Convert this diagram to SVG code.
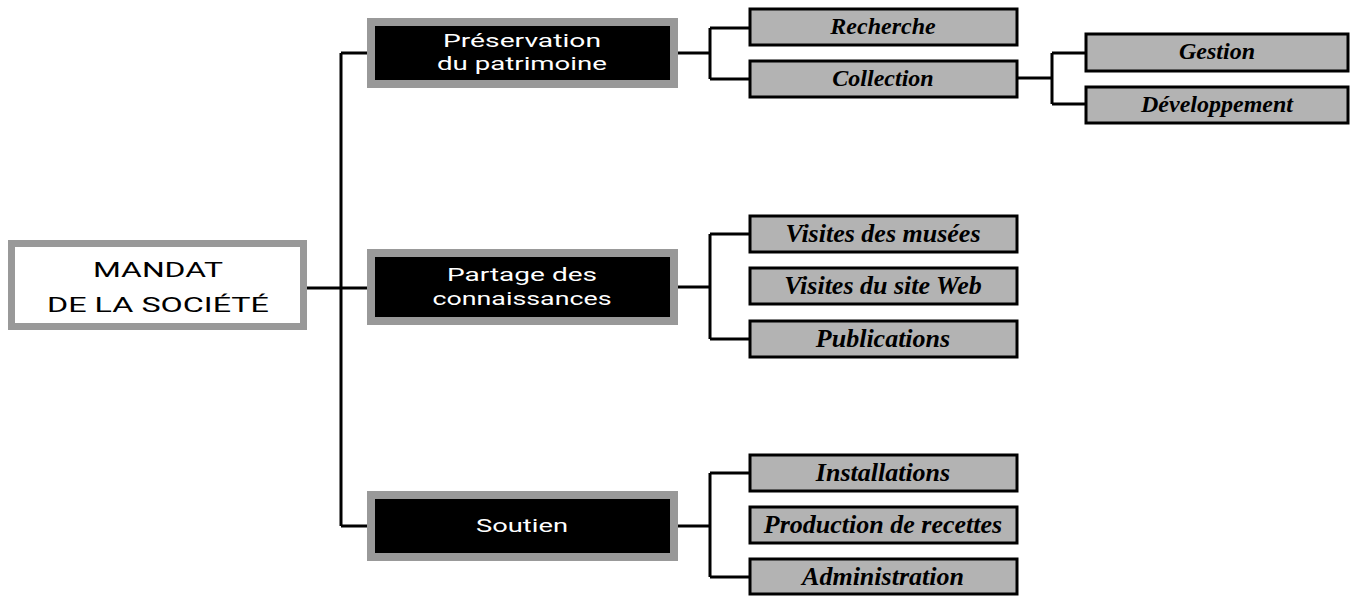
<svg xmlns="http://www.w3.org/2000/svg" width="1351" height="596" viewBox="0 0 1351 596">
<style>
.root{fill:#fff;stroke:#999;stroke-width:7}
.main{fill:#000;stroke:#999;stroke-width:8}
.leaf{fill:#b3b3b3;stroke:#000;stroke-width:3}
.st{font-family:Roboto,"Liberation Sans",Arial,sans-serif;font-weight:400;font-size:19px;text-anchor:middle;fill:#fff}
.rt{font-family:Roboto,"Liberation Sans",Arial,sans-serif;font-weight:400;font-size:21px;text-anchor:middle;fill:#000}
.lt{font-family:"Liberation Serif","Times New Roman",serif;font-size:24px;font-weight:bold;font-style:italic;text-anchor:middle;fill:#000}
.lt.big{font-size:26px}
.c{fill:none;stroke:#000;stroke-width:3}
</style>
<rect width="1351" height="596" fill="#fff"/>
<g id="connectors" class="c">
<path d="M307,288 H367 M341,53 V526 M341,53 H367 M341,526 H367"/>
<path d="M678,53 H710 M710,28 V79 M710,28 H749 M710,79 H749"/>
<path d="M1017,78 H1052 M1052,53 V104 M1052,53 H1085 M1052,104 H1085"/>
<path d="M678,287 H710 M710,234 V339 M710,234 H749 M710,339 H749"/>
<path d="M678,526 H710 M710,473 V577 M710,473 H749 M710,577 H749"/>
</g>
<g id="root">
<rect class="root" x="11.5" y="243.5" width="292" height="83"/>
<text class="rt" x="158" y="277" textLength="130" lengthAdjust="spacingAndGlyphs">MANDAT</text>
<text class="rt" x="158" y="312" textLength="222" lengthAdjust="spacingAndGlyphs">DE LA SOCIÉTÉ</text>
</g>
<g id="preservation">
<rect class="main" x="371" y="22" width="303" height="62"/>
<text class="st" x="522" y="47" textLength="158" lengthAdjust="spacingAndGlyphs">Préservation</text>
<text class="st" x="522" y="70" textLength="170" lengthAdjust="spacingAndGlyphs">du patrimoine</text>
</g>
<g id="partage">
<rect class="main" x="371" y="253" width="303" height="68"/>
<text class="st" x="522" y="281" textLength="150" lengthAdjust="spacingAndGlyphs">Partage des</text>
<text class="st" x="522" y="305" textLength="179" lengthAdjust="spacingAndGlyphs">connaissances</text>
</g>
<g id="soutien">
<rect class="main" x="371" y="495" width="303" height="62"/>
<text class="st" x="522" y="532" textLength="92" lengthAdjust="spacingAndGlyphs">Soutien</text>
</g>
<g id="recherche"><rect class="leaf" x="750" y="9" width="267" height="36"/><text class="lt" x="883" y="34">Recherche</text></g>
<g id="collection"><rect class="leaf" x="750" y="61" width="267" height="36"/><text class="lt" x="883" y="86">Collection</text></g>
<g id="gestion"><rect class="leaf" x="1086" y="34" width="262" height="37"/><text class="lt" x="1217" y="59">Gestion</text></g>
<g id="developpement"><rect class="leaf" x="1086" y="87" width="262" height="36"/><text class="lt" x="1217" y="112">Développement</text></g>
<g id="visites-musees"><rect class="leaf" x="750" y="216" width="267" height="36"/><text class="lt big" x="883" y="242">Visites des musées</text></g>
<g id="visites-web"><rect class="leaf" x="750" y="268" width="267" height="36"/><text class="lt big" x="883" y="294">Visites du site Web</text></g>
<g id="publications"><rect class="leaf" x="750" y="321" width="267" height="36"/><text class="lt big" x="883" y="347">Publications</text></g>
<g id="installations"><rect class="leaf" x="750" y="455" width="267" height="36"/><text class="lt big" x="883" y="481">Installations</text></g>
<g id="production"><rect class="leaf" x="750" y="507" width="267" height="36"/><text class="lt big" x="883" y="533">Production de recettes</text></g>
<g id="administration"><rect class="leaf" x="750" y="559" width="267" height="35"/><text class="lt big" x="883" y="585">Administration</text></g>
</svg>
